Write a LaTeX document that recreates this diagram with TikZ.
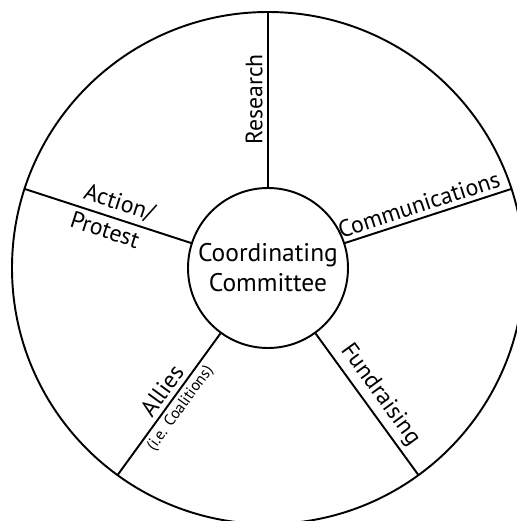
\documentclass[tikz,border=0pt]{standalone}
\usepackage{fontspec}
\setmainfont{PT Sans}

\begin{document}
\begin{tikzpicture}[
        hub/.style={circle,draw,line width=1.1pt,minimum size=3.2cm,inner sep=0pt,align=center,font=\fontsize{14.5}{17}\selectfont},
        spoke/.style={line width=1.1pt},
        lbl/.style={sloped,inner sep=2.5pt,font=\fontsize{13.5}{16}\selectfont},
        note/.style={sloped,inner sep=2pt,font=\fontsize{9}{11}\selectfont}
        ]
        \useasboundingbox (-5.36,-5.06) rectangle (4.98,5.36);
        \draw[spoke] (0,0) circle (5.12cm);
        \node[hub] (cc) at (0,0) {Coordinating\\Committee};

        \coordinate (res) at (90:5.12cm);
        \coordinate (com) at (18:5.12cm);
        \coordinate (fun) at (306:5.12cm);
        \coordinate (all) at (234:5.12cm);
        \coordinate (act) at (162:5.12cm);

        \draw[spoke] (cc.90) -- (res) node[lbl,above,pos=0.5] {Research};
        \draw[spoke] (cc.18) -- (com) node[lbl,above,pos=0.47] {Communications};
        \draw[spoke] (cc.306) -- (fun) node[lbl,above,pos=0.5] {Fundraising};
        \draw[spoke] (cc.234) -- (all) node[lbl,above,pos=0.46] {Allies}
            node[note,below,pos=0.48] {(i.e. Coalitions)};
        \draw[spoke] (cc.162) -- (act) node[lbl,above,pos=0.46] {Action/}
            node[lbl,below,pos=0.49] {Protest};
    \end{tikzpicture}
\end{document}
